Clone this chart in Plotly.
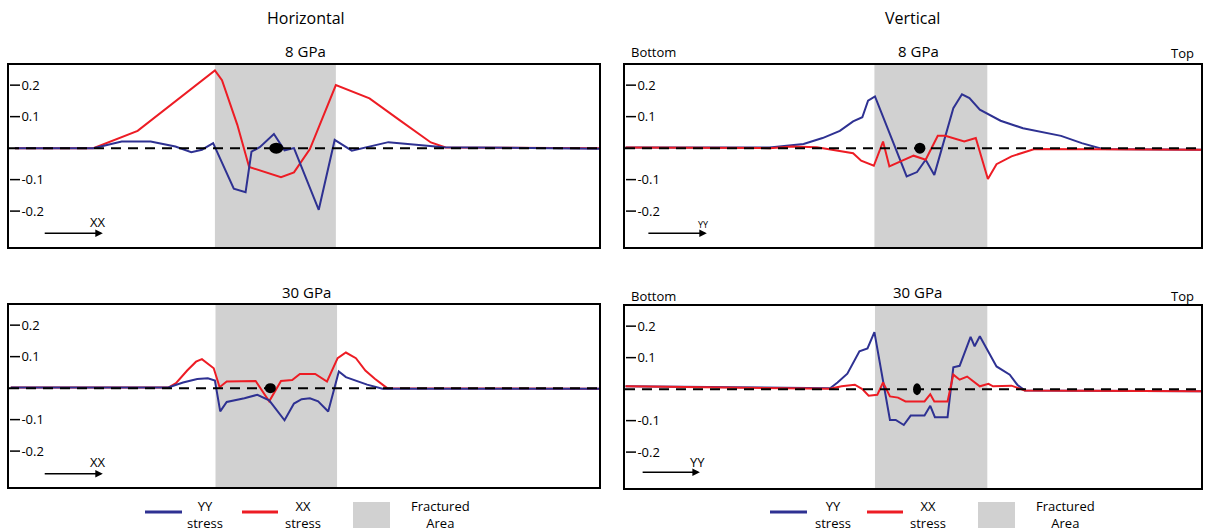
import plotly.graph_objects as go

W, H = 1206, 531

# ---------------- data (position along profile 0-100, stress) ----------------
# Horizontal, 8 GPa
h8_xx_x = [1, 14.3, 21.8, 34.9, 36.1, 38.7, 40.7, 46.1, 48.3, 51.0, 55.4, 61.1, 66.2, 71.5, 74.0, 100]
h8_xx_y = [0, 0, 0.055, 0.247, 0.216, 0.074, -0.060, -0.092, -0.077, -0.003, 0.200, 0.158, 0.089, 0.018, 0.002, 0]
h8_yy_x = [1, 14.3, 19.1, 24.0, 28.2, 30.9, 32.7, 34.6, 38.1, 40.1, 41.1, 42.5, 44.9, 46.7, 48.3, 52.5, 55.2,
           58.1, 64.3, 73.7, 100]
h8_yy_y = [0, 0, 0.021, 0.021, 0.005, -0.013, -0.005, 0.016, -0.129, -0.140, -0.011, 0.003, 0.045, -0.007, 0,
           -0.196, 0.026, -0.008, 0.019, 0.003, -0.002]

# Vertical, 8 GPa
v8_yy_x = [0.1, 25.1, 31.0, 34.3, 37.3, 39.6, 41.2, 42.2, 43.4, 48.9, 50.7, 52.2, 53.7, 57.0, 58.5, 59.8, 61.6,
           65.2, 69.1, 75.7, 79.3, 82.9, 100]
v8_yy_y = [0.002, 0.002, 0.013, 0.032, 0.055, 0.085, 0.098, 0.151, 0.164, -0.090, -0.076, -0.037, -0.085, 0.127,
           0.171, 0.159, 0.122, 0.087, 0.063, 0.039, 0.016, -0.003, -0.005]
v8_xx_x = [0.1, 25.1, 29.0, 33.3, 39.6, 41.0, 43.2, 44.8, 45.9, 50.1, 52.2, 54.3, 55.6, 58.9, 60.9, 63.0, 64.5,
           67.1, 71.1, 100]
v8_xx_y = [0.002, 0, 0.005, 0.003, -0.016, -0.040, -0.056, 0.021, -0.058, -0.024, -0.037, 0.039, 0.039, 0.021,
           0.032, -0.098, -0.051, -0.026, -0.003, -0.005]

# Horizontal, 30 GPa
h30_xx_x = [0.3, 27.0, 28.3, 30.2, 31.7, 32.7, 34.7, 35.7, 36.9, 41.8, 44.1, 46.1, 48.0, 49.3, 51.9, 53.9, 55.7,
            57.1, 58.8, 60.4, 62.0, 64.1, 100]
h30_xx_y = [0.002, 0.002, 0.016, 0.056, 0.084, 0.092, 0.063, 0.003, 0.021, 0.023, -0.042, 0.023, 0.026, 0.045,
            0.045, 0.021, 0.095, 0.113, 0.095, 0.056, 0.030, 0.0, -0.002]
h30_yy_x = [0.3, 27.0, 29.5, 31.9, 33.7, 34.9, 35.8, 36.9, 39.9, 42.1, 44.1, 46.7, 48.3, 49.6, 51.0, 52.4, 54.1,
            55.9, 57.1, 60.7, 63.3, 100]
h30_yy_y = [0.002, 0.002, 0.018, 0.029, 0.031, 0.024, -0.074, -0.044, -0.032, -0.021, -0.039, -0.102, -0.049,
            -0.035, -0.032, -0.042, -0.074, 0.053, 0.035, 0.011, -0.002, -0.002]

# Vertical, 30 GPa
v30_yy_x = [0.1, 35.6, 36.9, 38.6, 40.7, 42.1, 43.3, 46.0, 47.0, 48.4, 49.6, 52.0, 53.0, 53.8, 56.0, 57.0, 58.1,
            60.0, 60.7, 61.6, 64.5, 66.8, 68.1, 69.4, 100]
v30_yy_y = [0.009, 0.003, 0.021, 0.049, 0.120, 0.129, 0.181, -0.098, -0.098, -0.114, -0.084, -0.084, -0.053,
            -0.089, -0.089, 0.069, 0.074, 0.166, 0.136, 0.168, 0.072, 0.046, 0.014, -0.004, -0.007]
v30_xx_x = [0.1, 35.6, 37.6, 39.9, 41.2, 42.3, 43.8, 44.8, 46.0, 47.4, 48.7, 52.0, 53.0, 53.7, 56.0, 57.0, 58.1,
            59.4, 61.6, 63.1, 63.9, 67.1, 69.4, 100]
v30_xx_y = [0.009, 0.001, 0.009, 0.014, 0.0, -0.021, -0.018, 0.021, -0.023, -0.027, -0.039, -0.039, -0.016,
            -0.039, -0.039, 0.046, 0.030, 0.040, 0.009, 0.017, 0.009, 0.011, -0.004, -0.007]

# fractured areas [start, end] per panel
fract_h8 = [34.9, 55.4]
fract_v8 = [43.3, 62.9]
fract_h30 = [35.0, 55.6]
fract_v30 = [43.4, 62.9]

# centre points (x position) per panel
centre_x = [45.3, 51.2, 44.3, 50.7]

tick_vals = [-0.2, -0.1, 0.1, 0.2]
tick_text = ["-0.2", "-0.1", "0.1", "0.2"]

BLUE = "#2e3192"
RED = "#ed1c24"
GRAY = "#d1d1d1"
FONT = "Open Sans"
YR = [-0.314, 0.264]

fig = go.Figure()


def px_dom_x(a, b):
    return [a / W, b / W]


def px_dom_y(top, bot):
    return [1 - bot / H, 1 - top / H]


panels = [
    dict(n=1, xd=px_dom_x(9, 599), yd=px_dom_y(65, 247), first=("red", h8_xx_x, h8_xx_y),
         second=("blue", h8_yy_x, h8_yy_y), fr=fract_h8, cx=centre_x[0], dot=(14, 11),
         arrow_lbl="XX", lbl_size=13, arr=(5.8, 15.9, -0.270), lbl=(15.1, -0.236)),
    dict(n=2, xd=px_dom_x(625, 1201), yd=px_dom_y(65, 247), first=("blue", v8_yy_x, v8_yy_y),
         second=("red", v8_xx_x, v8_xx_y), fr=fract_v8, cx=centre_x[1], dot=(11, 11),
         arrow_lbl="YY", lbl_size=9, arr=(3.8, 14.2, -0.270), lbl=(13.7, -0.242)),
    dict(n=3, xd=px_dom_x(9, 599), yd=px_dom_y(305, 487), first=("red", h30_xx_x, h30_xx_y),
         second=("blue", h30_yy_x, h30_yy_y), fr=fract_h30, cx=centre_x[2], dot=(11, 10),
         arrow_lbl="XX", lbl_size=13, arr=(5.8, 15.9, -0.272), lbl=(15.1, -0.236)),
    dict(n=4, xd=px_dom_x(625, 1201), yd=px_dom_y(306, 488), first=("blue", v30_yy_x, v30_yy_y),
         second=("red", v30_xx_x, v30_xx_y), fr=fract_v30, cx=centre_x[3], dot=(8, 12),
         arrow_lbl="YY", lbl_size=13, arr=(2.8, 13.0, -0.264), lbl=(12.6, -0.232)),
]

layout_axes = {}
shapes = []
annotations = []

for p in panels:
    n = p["n"]
    xa = "x" if n == 1 else f"x{n}"
    ya = "y" if n == 1 else f"y{n}"
    # tick dashes inside the frame (drawn from the tick values along the left edge)
    left_px = p["xd"][0] * W
    fig.add_trace(go.Scatter(
        x=sum([[left_px / W + 1 / W, left_px / W + 11 / W, None] for _ in tick_vals], []),
        y=sum([[tv, tv, None] for tv in tick_vals], []),
        mode="lines", xaxis=f"x{n + 4}", yaxis=ya, showlegend=False, hoverinfo="skip",
        line=dict(color="black", width=1.5)))
    for name, xs, ys in (p["first"], p["second"]):
        fig.add_trace(go.Scatter(x=xs, y=ys, mode="lines", xaxis=xa, yaxis=ya, showlegend=False,
                                 line=dict(color=BLUE if name == "blue" else RED, width=2)))
    # zero dashed line
    fig.add_trace(go.Scatter(x=[0, 100], y=[0, 0], mode="lines", xaxis=xa, yaxis=ya, showlegend=False,
                             line=dict(color="black", width=2, dash="10px,7px")))
    key = "" if n == 1 else str(n)
    layout_axes[f"xaxis{key}"] = dict(domain=p["xd"], range=[0, 100], anchor=ya, showticklabels=False,
                                      ticks="", showgrid=False, zeroline=False, showline=True, mirror=True,
                                      linecolor="black", linewidth=2, fixedrange=True)
    # helper overlay x-axis in paper-fraction units for the tick dashes
    layout_axes[f"xaxis{n + 4}"] = dict(domain=p["xd"], range=list(p["xd"]), anchor=ya, overlaying=xa,
                                        visible=False, fixedrange=True)
    layout_axes[f"yaxis{key}"] = dict(domain=p["yd"], range=YR, anchor=xa, tickvals=tick_vals,
                                      ticktext=tick_text, ticks="", ticklabelposition="inside",
                                      ticklabelstandoff=12,
                                      tickfont=dict(family=FONT, size=13, color="black"), showgrid=False,
                                      zeroline=False, showline=True, mirror=True, linecolor="black",
                                      linewidth=2, fixedrange=True)
    # fractured area
    shapes.append(dict(type="rect", xref=xa, yref=f"{ya} domain", x0=p["fr"][0], x1=p["fr"][1], y0=0, y1=1,
                       fillcolor=GRAY, line=dict(width=0), layer="below"))
    # centre dot
    dw, dh = p["dot"]
    shapes.append(dict(type="circle", xref=xa, yref=ya, xsizemode="pixel", ysizemode="pixel",
                       xanchor=p["cx"], yanchor=0, x0=-dw / 2, x1=dw / 2, y0=-dh / 2, y1=dh / 2,
                       fillcolor="black", line=dict(width=0), layer="above"))
    # direction arrow
    a0, a1, ay = p["arr"]
    annotations.append(dict(xref=xa, yref=ya, x=a1, y=ay, ax=a0, ay=ay, axref=xa, ayref=ya, text="",
                            showarrow=True, arrowhead=2, arrowsize=1, arrowwidth=1.5, arrowcolor="black"))
    lx, ly = p["lbl"]
    annotations.append(dict(xref=xa, yref=ya, x=lx, y=ly, text=p["arrow_lbl"], showarrow=False,
                            xanchor="center", yanchor="middle",
                            font=dict(family=FONT, size=p["lbl_size"], color="black")))


def txt(x, y, s, size=15, xanchor="center"):
    annotations.append(dict(xref="paper", yref="paper", x=x / W, y=1 - y / H, text=s, showarrow=False,
                            xanchor=xanchor, yanchor="middle", font=dict(family=FONT, size=size, color="black")))


txt(306, 18, "Horizontal", 16)
txt(912, 18, "Vertical", 16)
txt(305, 51, "8 GPa", 15)
txt(918, 51, "8 GPa", 15)
txt(306, 292, "30 GPa", 15)
txt(917, 292, "30 GPa", 15)
txt(629, 52, "Bottom", 13, "left")
txt(1196, 53, "Top", 13, "right")
txt(629, 296, "Bottom", 13, "left")
txt(1196, 296, "Top", 13, "right")

# legends
for xs in ((145, 182, 205, 242, 278, 303, 353, 390, 440),
           (770, 807, 833, 867, 903, 928, 978, 1015, 1065)):
    b0, b1, tyy, r0, r1, txx, g0, g1, tfa = xs
    shapes.append(dict(type="line", xref="paper", yref="paper", x0=b0 / W, x1=b1 / W, y0=1 - 512 / H,
                       y1=1 - 512 / H, line=dict(color=BLUE, width=3)))
    shapes.append(dict(type="line", xref="paper", yref="paper", x0=r0 / W, x1=r1 / W, y0=1 - 512 / H,
                       y1=1 - 512 / H, line=dict(color=RED, width=3)))
    shapes.append(dict(type="rect", xref="paper", yref="paper", x0=g0 / W, x1=g1 / W, y0=1 - 528 / H,
                       y1=1 - 502 / H, fillcolor=GRAY, line=dict(width=0)))
    txt(tyy, 514, "YY<br>stress", 13)
    txt(txx, 514, "XX<br>stress", 13)
    txt(tfa, 514, "Fractured<br>Area", 13)

fig.update_layout(width=W, height=H, margin=dict(l=0, r=0, t=0, b=0), plot_bgcolor="white",
                  paper_bgcolor="white", showlegend=False, shapes=shapes, annotations=annotations,
                  **layout_axes)

fig.write_html("out.html", config=dict(displayModeBar=False))
